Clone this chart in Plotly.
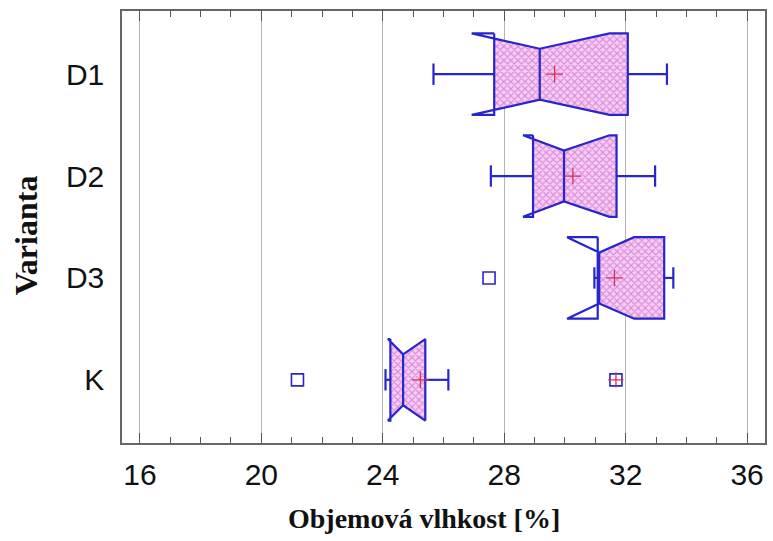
import plotly.graph_objects as go

categories = ["D1", "D2", "D3", "K"]
lower_whisker = [25.67, 27.56, 30.97, 24.09]
q1 = [27.67, 28.95, 31.08, 24.25]
median = [29.17, 29.97, 31.13, 24.67]
q3 = [32.07, 31.70, 33.27, 25.40]
upper_whisker = [33.36, 32.97, 33.57, 26.16]
notch_lo = [26.93, 28.62, 30.07, 24.17]
notch_hi = [31.47, 31.47, 32.28, 25.40]
means = [29.66, 30.26, 31.63, 25.24]
outlier_cat = ["D3", "K"]
outlier_val = [27.50, 21.19]
far_outlier_cat = ["K"]
far_outlier_val = [31.68]

x_ticks = [16, 20, 24, 28, 32, 36]
x_title = "Objemová vlhkost [%]"
y_title = "Varianta"

BLUE = "#2626cc"
RED = "#d8305a"
FULL = 0.40
WAIST = 0.25
CAP = 0.105

fig = go.Figure()


def half(x, lo, med, hi):
    if x <= lo or x >= hi:
        return FULL
    if x <= med:
        return FULL - (FULL - WAIST) * (x - lo) / (med - lo)
    return WAIST + (FULL - WAIST) * (x - med) / (hi - med)


for i, c in enumerate(categories):
    a, m, b = q1[i], median[i], q3[i]
    lo, hi = notch_lo[i], notch_hi[i]
    xs = [a]
    if lo > a:
        xs.append(lo)
    xs.append(m)
    if hi < b:
        xs.append(hi)
    xs.append(b)
    top = [i - half(x, lo, m, hi) for x in xs]
    bot = [i + half(x, lo, m, hi) for x in xs]
    px = xs + xs[::-1] + [xs[0]]
    py = top + bot[::-1] + [top[0]]
    fig.add_trace(go.Scatter(
        x=px, y=py, mode="lines", fill="toself",
        line=dict(width=0, color="rgba(0,0,0,0)"),
        fillcolor="#eeb0ea",
        fillpattern=dict(shape="x", fgcolor="#c840c4", bgcolor="#f5d0f3",
                         size=5, solidity=0.42),
        hoverinfo="skip", showlegend=False))
    # outline
    ox = [a, lo, m, hi, b, b, hi, m, lo, a, a]
    oy = [i - FULL, i - FULL, i - WAIST, i - FULL, i - FULL,
          i + FULL, i + FULL, i + WAIST, i + FULL, i + FULL, i - FULL]
    fig.add_trace(go.Scatter(x=ox, y=oy, mode="lines",
                             line=dict(color=BLUE, width=2.2),
                             hoverinfo="skip", showlegend=False))
    # median line
    fig.add_trace(go.Scatter(x=[m, m], y=[i - WAIST, i + WAIST], mode="lines",
                             line=dict(color=BLUE, width=2.2),
                             hoverinfo="skip", showlegend=False))
    # whiskers
    lw, uw = lower_whisker[i], upper_whisker[i]
    fig.add_trace(go.Scatter(
        x=[a, lw, None, lw, lw, None, b, uw, None, uw, uw],
        y=[i, i, None, i - CAP, i + CAP, None, i, i, None, i - CAP, i + CAP],
        mode="lines", line=dict(color=BLUE, width=2.2),
        hoverinfo="skip", showlegend=False))

# means
fig.add_trace(go.Scatter(
    x=means, y=list(range(len(categories))), mode="markers",
    marker=dict(symbol="cross-thin", size=12, line=dict(color=RED, width=1.3)),
    showlegend=False))

# outliers
fig.add_trace(go.Scatter(
    x=outlier_val, y=[categories.index(c) for c in outlier_cat], mode="markers",
    marker=dict(symbol="square-open", size=12, color=BLUE, line=dict(width=1.6)),
    showlegend=False))
fig.add_trace(go.Scatter(
    x=far_outlier_val, y=[categories.index(c) for c in far_outlier_cat], mode="markers",
    marker=dict(symbol="square-open", size=12, color=BLUE, line=dict(width=1.6)),
    showlegend=False))
fig.add_trace(go.Scatter(
    x=far_outlier_val, y=[categories.index(c) for c in far_outlier_cat], mode="markers",
    marker=dict(symbol="cross-thin", size=11, line=dict(color=RED, width=1.3)),
    showlegend=False))

fig.update_layout(
    width=773, height=541,
    margin=dict(l=122, r=6, t=11, b=98),
    paper_bgcolor="white", plot_bgcolor="white",
    xaxis=dict(
        range=[15.41, 36.59], tickvals=x_ticks, ticktext=[str(t) for t in x_ticks],
        showgrid=True, gridcolor="#b4b4b4", gridwidth=1.3,
        ticks="inside", ticklen=10, tickcolor="#555", tickwidth=1.2,
        minor=dict(dtick=1, tick0=16, ticks="inside", ticklen=6, tickcolor="#555",
                   showgrid=False),
        showline=True, linecolor="#666", linewidth=1.5, mirror="allticks",
        zeroline=False, ticklabelstandoff=4,
        tickfont=dict(family="Liberation Sans, Arial", size=30, color="#111"),
    ),
    yaxis=dict(
        range=[3.62, -0.62], tickvals=list(range(len(categories))),
        ticktext=categories, showgrid=False, zeroline=False,
        ticks="", showline=True, linecolor="#666", linewidth=1.5, mirror=True,
        tickfont=dict(family="Liberation Sans, Arial", size=30, color="#111"),
        ticklabelstandoff=10,
    ),
    annotations=[
        dict(text=x_title, xref="paper", yref="paper", x=(425 - 122) / 645,
             y=(443 - 518) / 432, xanchor="center", yanchor="middle",
             showarrow=False,
             font=dict(family="Liberation Serif, Times New Roman", size=28,
                       color="#111", weight="bold")),
        dict(text=y_title, xref="paper", yref="paper", x=(26 - 122) / 645,
             y=(443 - 235) / 432, xanchor="center", yanchor="middle",
             textangle=-90, showarrow=False,
             font=dict(family="Liberation Serif, Times New Roman", size=32,
                       color="#111", weight="bold")),
    ],
)

fig.write_html("out.html")
